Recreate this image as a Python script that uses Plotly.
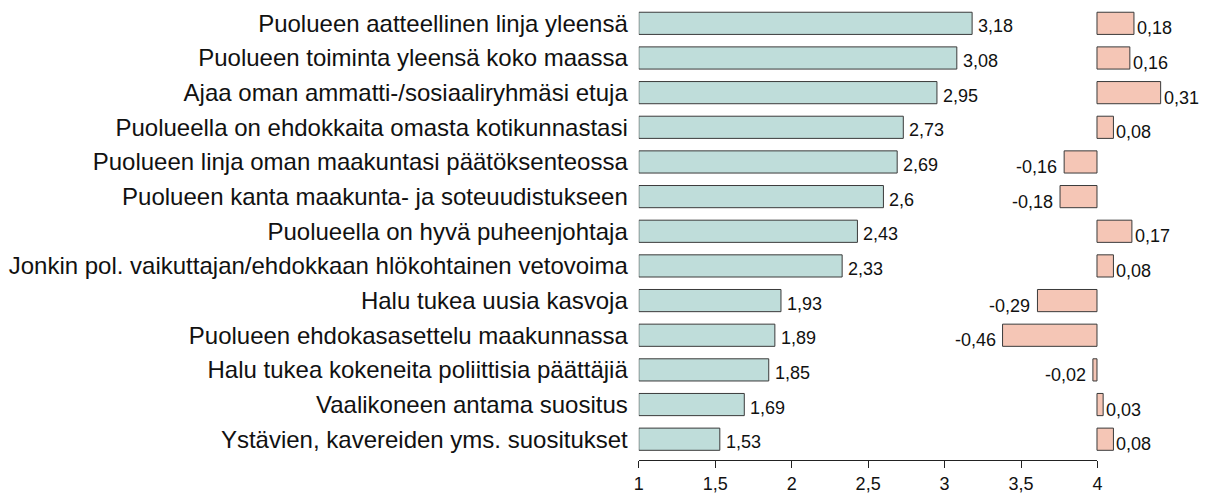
import plotly.graph_objects as go

categories = [
    "Puolueen aatteellinen linja yleensä",
    "Puolueen toiminta yleensä koko maassa",
    "Ajaa oman ammatti-/sosiaaliryhmäsi etuja",
    "Puolueella on ehdokkaita omasta kotikunnastasi",
    "Puolueen linja oman maakuntasi päätöksenteossa",
    "Puolueen kanta maakunta- ja soteuudistukseen",
    "Puolueella on hyvä puheenjohtaja",
    "Jonkin pol. vaikuttajan/ehdokkaan hlökohtainen vetovoima",
    "Halu tukea uusia kasvoja",
    "Puolueen ehdokasasettelu maakunnassa",
    "Halu tukea kokeneita poliittisia päättäjiä",
    "Vaalikoneen antama suositus",
    "Ystävien, kavereiden yms. suositukset",
]
means = [3.18, 3.08, 2.95, 2.73, 2.69, 2.6, 2.43, 2.33, 1.93, 1.89, 1.85, 1.69, 1.53]
diffs = [0.18, 0.16, 0.31, 0.08, -0.16, -0.18, 0.17, 0.08, -0.29, -0.46, -0.02, 0.03, 0.08]
x_ticks = [1, 1.5, 2, 2.5, 3, 3.5, 4]
axis_min = 1

W, H = 1223, 494
FONT = "Liberation Sans, Arial, sans-serif"


def fmt(v):
    return str(v).replace(".", ",")


fig = go.Figure()
fig.add_trace(go.Bar(
    y=categories, x=[m - axis_min for m in means], base=axis_min,
    orientation="h", width=0.64,
    marker=dict(color="#BFDDDA", line=dict(color="#3a3a3a", width=1)),
    xaxis="x", yaxis="y", showlegend=False, cliponaxis=False,
))
fig.add_trace(go.Bar(
    y=categories, x=diffs,
    orientation="h", width=0.64,
    marker=dict(color="#F5C6B6", line=dict(color="#3a3a3a", width=1)),
    xaxis="x2", yaxis="y", showlegend=False, cliponaxis=False,
))

annotations = []
for c, m in zip(categories, means):
    annotations.append(dict(x=m, y=c, xref="x", yref="y", text=fmt(m),
                            showarrow=False, xanchor="left", xshift=4, yshift=-3,
                            font=dict(size=18, color="#111", family=FONT)))
for c, d in zip(categories, diffs):
    annotations.append(dict(x=d, y=c, xref="x2", yref="y", text=fmt(d),
                            showarrow=False,
                            xanchor="left" if d >= 0 else "right",
                            xshift=1 if d >= 0 else -5, yshift=-5,
                            font=dict(size=18, color="#111", family=FONT)))

x0_px, x4_px = 639, 1101.5
zero_px, diff_scale = 1101, 207.0
x2_left_px, x2_right_px = 940, 1223

fig.update_layout(
    width=W, height=H,
    margin=dict(l=0, r=0, t=6, b=H - 461),
    plot_bgcolor="rgba(0,0,0,0)", paper_bgcolor="white",
    font=dict(family=FONT, size=18, color="#111"),
    separators=", ",
    xaxis=dict(domain=[x0_px / W, x4_px / W], range=[1, 4], anchor="y",
               tickvals=x_ticks, ticktext=[fmt(t) for t in x_ticks],
               showline=True, linecolor="#222", linewidth=1,
               ticks="outside", ticklen=7, tickcolor="#222",
               showgrid=False, zeroline=False, fixedrange=True,
               tickfont=dict(size=18)),
    xaxis2=dict(domain=[x2_left_px / W, x2_right_px / W],
                range=[-(zero_px - x2_left_px) / diff_scale, (x2_right_px - zero_px) / diff_scale],
                anchor="y", visible=False, showgrid=False, zeroline=False),
    yaxis=dict(range=[12.6, -0.5], showgrid=False, zeroline=False, showline=False,
               ticks="", automargin=False, ticklabelstandoff=10,
               tickfont=dict(size=24, color="#111")),
    annotations=annotations,
)

fig.write_html("out.html", config={"displayModeBar": False},
               post_script="document.body.style.margin='0';document.body.style.overflow='hidden';")
